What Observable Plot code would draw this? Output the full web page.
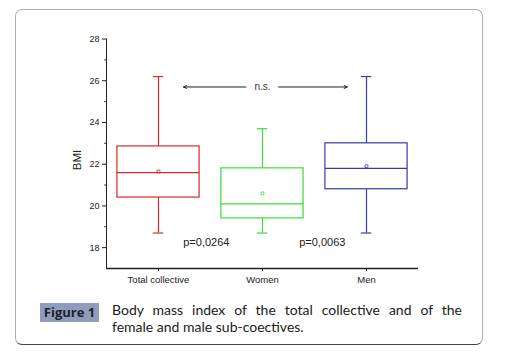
<!DOCTYPE html>
<html>
<head>
<meta charset="utf-8">
<script src="https://cdn.jsdelivr.net/npm/d3@7"></script>
<script src="https://cdn.jsdelivr.net/npm/@observablehq/plot@0.6"></script>
<style>
  html, body { margin: 0; padding: 0; background: #fff; }
  #wrap { position: relative; width: 512px; height: 363px; overflow: hidden; }
  #frame { position: absolute; left: 15px; top: 9px; width: 466px; height: 334px;
    border: 1.5px solid #a9aeb8; border-bottom-color: #3a4660; border-radius: 7px; }
  #chart { position: absolute; left: 0; top: 0; }
  #figlabel { position: absolute; left: 40px; top: 303px; width: 59px; height: 19px;
    background: #8f9dba; color: #1b2130; font: bold 13px "Open Sans", sans-serif;
    line-height: 19px; text-align: center; }
  #caption { position: absolute; left: 112px; top: 301px; width: 350px;
    font: 14px Lato, sans-serif; line-height: 17px; color: #1a1a1a; }
  #caption .l1 { text-align: justify; text-align-last: justify; white-space: nowrap; }
</style>
</head>
<body>
<div id="wrap">
  <div id="frame"></div>
  <div id="chart"></div>
  <div id="figlabel">Figure 1</div>
  <div id="caption"><div class="l1">Body mass index of the total collective and of the</div><div>female and male sub-coectives.</div></div>
</div>
<script>
const categories = ["Total collective", "Women", "Men"];
const whiskerHigh = [26.2, 23.7, 26.2];
const q3 = [22.85, 21.8, 23.0];
const median = [21.6, 20.1, 21.8];
const mean = [21.65, 20.6, 21.9];
const q1 = [20.4, 19.4, 20.8];
const whiskerLow = [18.7, 18.7, 18.7];
const colors = ["#d42a2a", "#3ddc3d", "#3a3aa8"];

const majorTicks = [18, 20, 22, 24, 26, 28];
const minorTicks = [19, 21, 23, 25, 27];

const arrowX1 = [0.84, 1.155];
const arrowX2 = [0.24, 1.815];
const arrowY = [25.7, 25.7];
const nsLabel = {x: 1, y: 25.7, text: "n.s."};
const pLabels = [
  {x: 0.46, y: 18.25, text: "p=0,0264"},
  {x: 1.575, y: 18.25, text: "p=0,0063"}
];

const rows = categories.map((c, i) => ({
  cat: c, i, hi: whiskerHigh[i], q3: q3[i], median: median[i],
  mean: mean[i], q1: q1[i], lo: whiskerLow[i]
}));
const arrows = arrowX1.map((x1, k) => ({x1, x2: arrowX2[k], y: arrowY[k]}));

const hw = 0.395, cap = 0.05, minorLen = 2 / 104;
const font = "Liberation Sans, Arial, sans-serif";

const chart = Plot.plot({
  width: 512,
  height: 300,
  marginLeft: 106,
  marginRight: 94,
  marginTop: 38.5,
  marginBottom: 32,
  style: {fontFamily: font, fontSize: "9px", color: "#222", background: "transparent"},
  x: {domain: [-0.5, 2.5], ticks: [0, 1, 2], tickFormat: i => categories[i],
      tickSize: 3, tickPadding: 5, label: null},
  y: {domain: [17, 28], ticks: majorTicks, tickSize: 4, tickPadding: 3, label: null},
  color: {domain: categories, range: colors},
  marks: [
    Plot.ruleX([-0.5], {y1: 17, y2: 28, stroke: "#222", strokeWidth: 1}),
    Plot.ruleY([17], {x1: -0.5, x2: 2.5, stroke: "#222", strokeWidth: 1.3}),
    Plot.ruleY(minorTicks, {y: d => d, x1: -0.5 - minorLen, x2: -0.5, stroke: "#444"}),
    Plot.ruleX(rows, {x: "i", y1: "q3", y2: "hi", stroke: "cat", strokeWidth: 1.2}),
    Plot.ruleX(rows, {x: "i", y1: "lo", y2: "q1", stroke: "cat", strokeWidth: 1.2}),
    Plot.ruleY(rows, {y: "hi", x1: d => d.i - cap, x2: d => d.i + cap, stroke: "cat", strokeWidth: 1.2}),
    Plot.ruleY(rows, {y: "lo", x1: d => d.i - cap, x2: d => d.i + cap, stroke: "cat", strokeWidth: 1.2}),
    Plot.rect(rows, {x1: d => d.i - hw, x2: d => d.i + hw, y1: "q1", y2: "q3",
      stroke: "cat", fill: "none", strokeWidth: 1.2}),
    Plot.ruleY(rows, {y: "median", x1: d => d.i - hw, x2: d => d.i + hw, stroke: "cat", strokeWidth: 1.2}),
    Plot.dot(rows, {x: "i", y: "mean", symbol: "square", r: 1.6, stroke: "cat", strokeWidth: 0.8}),
    Plot.arrow(arrows, {x1: "x1", x2: "x2", y1: "y", y2: "y", stroke: "#222",
      strokeWidth: 1, headLength: 5, headAngle: 50}),
    Plot.text([nsLabel], {x: "x", y: "y", text: "text", fill: "#333", fontSize: 10}),
    Plot.text(pLabels, {x: "x", y: "y", text: "text", fill: "#222", fontSize: 11}),
    Plot.text(["BMI"], {x: -0.5, y: 22.2, dx: -29, rotate: -90, fill: "#222", fontSize: 11.5})
  ]
});
chart.querySelectorAll('g[aria-label="x-axis tick label"] text, g[aria-label="x-axis"] text').forEach(t => t.setAttribute("font-size", "9.5"));
document.getElementById("chart").appendChild(chart);
</script>
</body>
</html>
